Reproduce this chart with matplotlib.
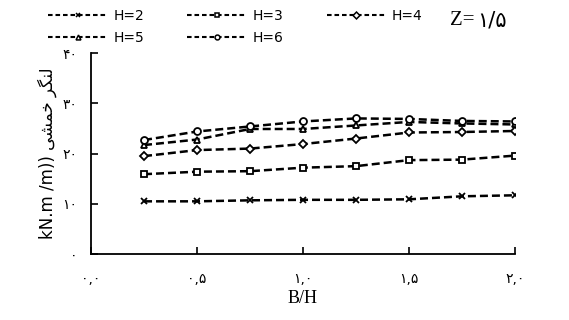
import matplotlib
matplotlib.use("Agg")
import matplotlib.pyplot as plt

bh = [0.25, 0.5, 0.75, 1.0, 1.25, 1.5, 1.75, 2.0]
h2 = [10.5, 10.5, 10.7, 10.8, 10.8, 10.9, 11.5, 11.7]
h3 = [15.9, 16.4, 16.5, 17.2, 17.5, 18.7, 18.8, 19.6]
h4 = [19.5, 20.7, 21.0, 21.9, 23.0, 24.2, 24.3, 24.5]
h5 = [21.7, 22.8, 24.9, 24.9, 25.6, 26.3, 26.0, 25.8]
h6 = [22.7, 24.4, 25.4, 26.4, 27.0, 26.9, 26.5, 26.4]
labels = ["H=2", "H=3", "H=4", "H=5", "H=6"]
markers = ["x", "s", "D", "^", "o"]
xticks = [0.0, 0.5, 1.0, 1.5, 2.0]
xticklabels = ["۰,۰", "۰,۵", "۱,۰", "۱,۵", "۲,۰"]
yticks = [0, 10, 20, 30, 40]
yticklabels = ["۰", "۱۰", "۲۰", "۳۰", "۴۰"]

fig = plt.figure(figsize=(5.69, 3.2), dpi=100)
ax = fig.add_axes([0.16, 0.206, 0.745, 0.628])
series = [h2, h3, h4, h5, h6]
msizes = [4.5, 4.5, 3.8, 5, 5]
handles = []
for ys, lab, m, ms in zip(series, labels, markers, msizes):
    ln, = ax.plot(bh, ys, color="black", linestyle=(0, (3.2, 1.6)), linewidth=1.8,
                  marker=m, markersize=ms, markerfacecolor="white",
                  markeredgecolor="black", markeredgewidth=1.3, label=lab)
    handles.append(ln)

ax.set_xlim(0, 2.0)
ax.set_ylim(0, 40)
ax.set_xticks(xticks)
ax.set_xticklabels(xticklabels, fontsize=10, family="DejaVu Sans")
ax.set_yticks(yticks)
ax.set_yticklabels(yticklabels, fontsize=10, family="DejaVu Sans")
ax.tick_params(axis="both", direction="in", length=5, width=1.2)
ax.tick_params(axis="x", pad=13)
ax.tick_params(axis="y", pad=10)
for s in ["top", "right"]:
    ax.spines[s].set_visible(False)
for s in ["left", "bottom"]:
    ax.spines[s].set_linewidth(1.3)

ax.set_xlabel("B/H", family="Liberation Serif", fontsize=13, labelpad=3)
ylab = "kN.m /m)) " + "\ufbfd\ufeb8\ufee4\ufea7" + " " + "\ufeae\ufb95\ufee8\ufedf"
ax.set_ylabel(ylab, family=["DejaVu Sans"], fontsize=12, labelpad=4)

order = [0, 3, 1, 4, 2]
leg_handles = []
for i in order:
    leg_handles.append(plt.Line2D([], [], color="black", linestyle=(0, (2.2, 1.4)),
                                  linewidth=1.5, marker=markers[i], markersize=3.5,
                                  markerfacecolor="white", markeredgecolor="black",
                                  markeredgewidth=1.1))
fig.legend(leg_handles, [labels[i] for i in order], ncol=3, numpoints=1,
           loc="upper left", bbox_to_anchor=(0.063, 1.012), frameon=False,
           fontsize=10, handlelength=4.3, columnspacing=3.1, labelspacing=0.6,
           handletextpad=0.4)

fig.text(0.79, 0.935, "Z=", family="Liberation Serif", fontsize=15, va="center")
fig.text(0.838, 0.935, "۱/۵", family="DejaVu Sans", fontsize=15, va="center")

fig.savefig("out.png", dpi=100)
